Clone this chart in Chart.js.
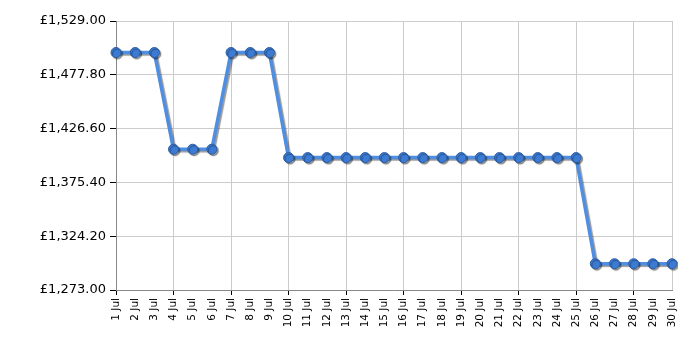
<!DOCTYPE html>
<html>
<head>
<meta charset="utf-8">
<script src="https://cdn.jsdelivr.net/npm/chart.js@4/dist/chart.umd.min.js"></script>
<style>
  html, body { margin: 0; padding: 0; background: #fff; }
  #wrap { width: 700px; height: 350px; }
</style>
</head>
<body>
<div id="wrap"><canvas id="priceChart" width="700" height="350"></canvas></div>
<script>
// days of July
const dayLabels = [
    '1 Jul', '2 Jul', '3 Jul', '4 Jul', '5 Jul', '6 Jul', '7 Jul', '8 Jul', '9 Jul', '10 Jul',
    '11 Jul', '12 Jul', '13 Jul', '14 Jul', '15 Jul', '16 Jul', '17 Jul', '18 Jul', '19 Jul', '20 Jul',
    '21 Jul', '22 Jul', '23 Jul', '24 Jul', '25 Jul', '26 Jul', '27 Jul', '28 Jul', '29 Jul', '30 Jul'
];

// price per day
const prices = [
    1499, 1499, 1499, 1407, 1407, 1407, 1499, 1499, 1499, 1399,
    1399, 1399, 1399, 1399, 1399, 1399, 1399, 1399, 1399, 1399,
    1399, 1399, 1399, 1399, 1399, 1298, 1298, 1298, 1298, 1298
];

const yTicks = [1273, 1324.2, 1375.4, 1426.6, 1477.8, 1529];

function money(v) {
    return '£' + v.toLocaleString('en-GB', { minimumFractionDigits: 2, maximumFractionDigits: 2 });
}

// soft drop shadow under the line and the points
const shadowPlugin = {
    id: 'lineShadow',
    beforeDatasetDraw(chart) {
        const ctx = chart.ctx;
        ctx.save();
        ctx.shadowColor = 'rgba(0, 0, 0, 0.4)';
        ctx.shadowBlur = 1;
        ctx.shadowOffsetX = 1.5;
        ctx.shadowOffsetY = 1.5;
    },
    afterDatasetDraw(chart) {
        chart.ctx.restore();
    }
};

Chart.defaults.font.family = '"DejaVu Sans", Verdana, sans-serif';
Chart.defaults.color = '#000';

const priceChart = new Chart(document.getElementById('priceChart'), {
    type: 'line',
    data: {
        labels: dayLabels,
        datasets: [{
            data: prices,
            borderColor: '#4f8ee0',
            borderWidth: 3.5,
            tension: 0,
            pointRadius: 5,
            pointHoverRadius: 5,
            pointBackgroundColor: '#3c7bd3',
            pointBorderColor: '#2c5da6',
            pointBorderWidth: 1
        }]
    },
    options: {
        responsive: false,
        animation: false,
        events: [],
        layout: { padding: { top: 21, right: 28, left: 0, bottom: 0 } },
        plugins: {
            legend: { display: false },
            tooltip: { enabled: false }
        },
        scales: {
            x: {
                offset: false,
                border: { color: '#888', width: 1 },
                grid: {
                    color: (c) => (c.index % 3 === 0 || c.index === dayLabels.length - 1) ? '#cccccc' : 'rgba(0,0,0,0)',
                    tickColor: (c) => c.index % 3 === 0 ? '#000' : 'rgba(0,0,0,0)',
                    tickLength: 5,
                    drawOnChartArea: true
                },
                ticks: {
                    autoSkip: false,
                    minRotation: 90,
                    maxRotation: 90,
                    padding: 3,
                    font: { size: 10.5 }
                },
                afterFit(scale) { scale.height = 60; }
            },
            y: {
                min: 1273,
                max: 1529,
                border: { color: '#888', width: 1 },
                grid: {
                    color: '#cccccc',
                    tickColor: '#000',
                    tickLength: 6
                },
                afterBuildTicks(axis) {
                    axis.ticks = yTicks.map(v => ({ value: v }));
                },
                ticks: {
                    padding: 4,
                    font: { size: 13 },
                    callback: (v) => money(v)
                },
                afterFit(scale) { scale.width = 116; }
            }
        }
    },
    plugins: [shadowPlugin]
});
</script>
</body>
</html>
